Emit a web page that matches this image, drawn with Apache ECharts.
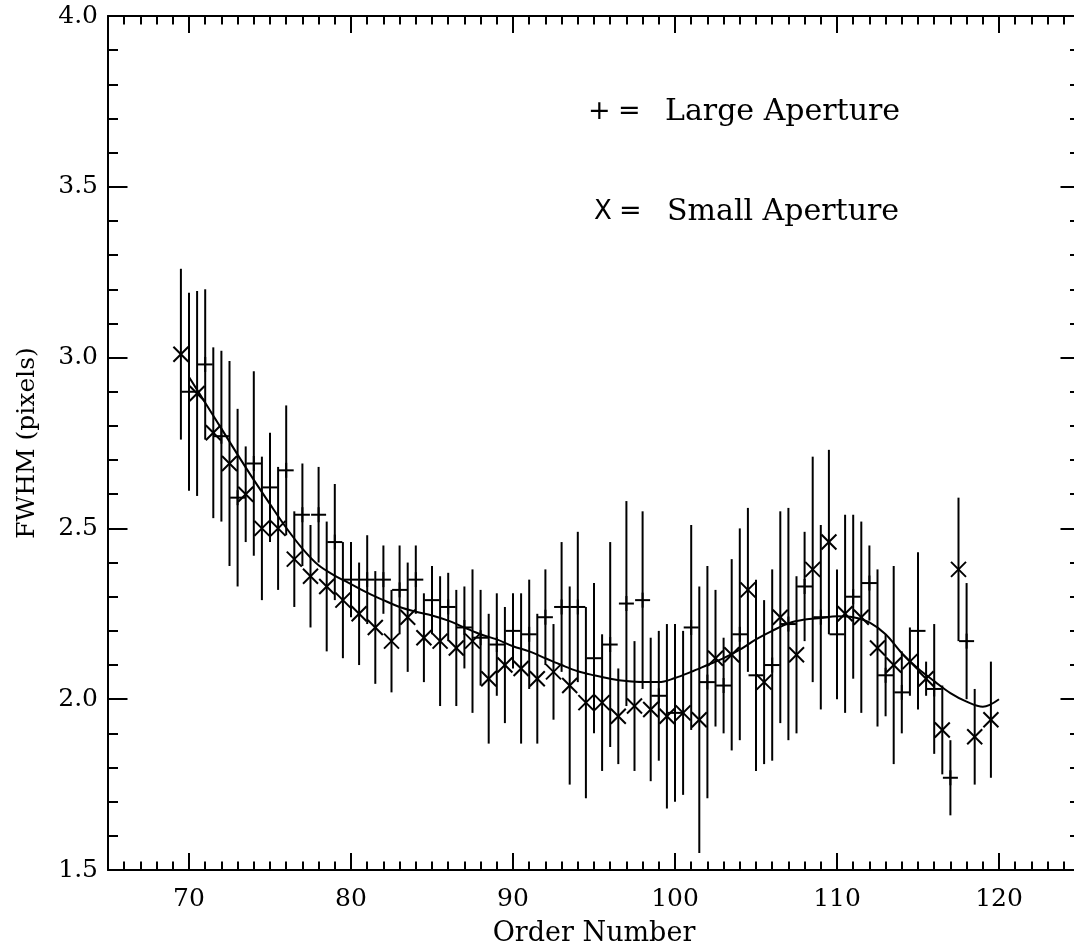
<!DOCTYPE html>
<html><head><meta charset="utf-8">
<script src="https://cdn.jsdelivr.net/npm/echarts@6/dist/echarts.min.js"></script>
<style>html,body{margin:0;padding:0;background:#fff}#c{width:1074px;height:948px}</style>
</head><body><div id="c"></div>
<script>
// ---- data ----
const smallOrders = [69.5,70.5,71.5,72.5,73.5,74.5,75.5,76.5,77.5,78.5,79.5,80.5,81.5,82.5,83.5,84.5,85.5,86.5,87.5,88.5,89.5,90.5,91.5,92.5,93.5,94.5,95.5,96.5,97.5,98.5,99.5,100.5,101.5,102.5,103.5,104.5,105.5,106.5,107.5,108.5,109.5,110.5,111.5,112.5,113.5,114.5,115.5,116.5,117.5,118.5,119.5];
const smallFwhm = [3.01,2.895,2.78,2.69,2.60,2.50,2.50,2.41,2.36,2.33,2.29,2.25,2.21,2.17,2.24,2.18,2.17,2.15,2.17,2.06,2.10,2.09,2.06,2.08,2.04,1.99,1.99,1.95,1.98,1.97,1.95,1.96,1.94,2.12,2.13,2.32,2.05,2.24,2.13,2.38,2.46,2.25,2.24,2.15,2.10,2.11,2.06,1.91,2.38,1.89,1.94];
const smallErr = [0.25,0.30,0.25,0.30,0.14,0.21,0.18,0.14,0.15,0.19,0.17,0.15,0.165,0.15,0.16,0.13,0.19,0.17,0.21,0.19,0.17,0.22,0.19,0.14,0.29,0.28,0.20,0.14,0.19,0.21,0.27,0.24,0.39,0.20,0.28,0.24,0.24,0.31,0.23,0.33,0.27,0.29,0.28,0.23,0.29,0.10,0.05,0.13,0.21,0.14,0.17];

const largeOrders = [70,71,72,73,74,75,76,77,78,79,80,81,82,83,84,85,86,87,88,89,90,91,92,93,94,95,96,97,98,99,100,101,102,103,104,105,106,107,108,109,110,111,112,113,114,115,116,117,118];
const largeFwhm = [2.90,2.98,2.77,2.59,2.69,2.62,2.67,2.54,2.54,2.46,2.35,2.35,2.35,2.32,2.35,2.29,2.27,2.21,2.18,2.16,2.20,2.19,2.24,2.27,2.27,2.12,2.16,2.28,2.29,2.01,1.96,2.21,2.05,2.04,2.19,2.07,2.10,2.22,2.33,2.24,2.19,2.30,2.34,2.07,2.02,2.20,2.03,1.77,2.17];
const largeErr = [0.29,0.22,0.25,0.26,0.27,0.16,0.19,0.15,0.14,0.17,0.11,0.13,0.10,0.13,0.10,0.10,0.10,0.12,0.14,0.15,0.11,0.16,0.14,0.19,0.22,0.22,0.30,0.30,0.26,0.19,0.26,0.30,0.34,0.14,0.31,0.28,0.28,0.34,0.16,0.27,0.19,0.24,0.11,0.12,0.12,0.23,0.19,0.11,0.17];

const fitOrders = [70,71,72,73,74,75,76,77,78,79,80,81,82,83,84,85,86,87,88,89,90,91,92,93,94,95,96,97,98,99,100,101,102,103,104,105,106,107,108,109,110,111,112,113,114,115,116,117,118,119,120];
const fitFwhm = [2.943,2.868,2.792,2.716,2.642,2.571,2.502,2.441,2.392,2.362,2.337,2.312,2.29,2.27,2.256,2.245,2.23,2.21,2.19,2.175,2.155,2.14,2.12,2.10,2.082,2.07,2.06,2.053,2.05,2.05,2.062,2.08,2.10,2.12,2.145,2.175,2.20,2.222,2.233,2.238,2.243,2.24,2.225,2.19,2.135,2.09,2.053,2.018,1.993,1.978,2.0];

const xMajorTicks = [70,80,90,100,110,120];
const xTitle = 'Order Number';
const yTitle = 'FWHM (pixels)';
const legendLarge = 'Large Aperture';
const legendSmall = 'Small Aperture';

// ---- rendering ----
const SERIF = '"DejaVu Serif", serif';
const SANS = '"DejaVu Sans", sans-serif';
const BLACK = '#000';
const chart = echarts.init(document.getElementById('c'), null, {renderer: 'canvas'});

function errSeries(name, orders, vals, errs, kind) {
  return {
    type: 'custom', name: name, xAxisIndex: 0, yAxisIndex: 0,
    data: orders.map((o, i) => [o, vals[i], errs[i]]),
    encode: {x: 0, y: 1},
    silent: true,
    renderItem: function (params, api) {
      const x = api.value(0), v = api.value(1), e = api.value(2);
      const p = api.coord([x, v]);
      const hi = api.coord([x, v + e]);
      const lo = api.coord([x, v - e]);
      const st = {stroke: BLACK, lineWidth: 2, fill: null};
      const s = 7.5;
      const ch = [{type: 'line', shape: {x1: hi[0], y1: hi[1], x2: lo[0], y2: lo[1]}, style: st}];
      if (kind === 'plus') {
        ch.push({type: 'line', shape: {x1: p[0] - s, y1: p[1], x2: p[0] + s, y2: p[1]}, style: st});
        ch.push({type: 'line', shape: {x1: p[0], y1: p[1] - s, x2: p[0], y2: p[1] + s}, style: st});
      } else {
        ch.push({type: 'line', shape: {x1: p[0] - s, y1: p[1] - s, x2: p[0] + s, y2: p[1] + s}, style: st});
        ch.push({type: 'line', shape: {x1: p[0] - s, y1: p[1] + s, x2: p[0] + s, y2: p[1] - s}, style: st});
      }
      return {type: 'group', children: ch};
    }
  };
}

const lineSt = {color: BLACK, width: 2};
const xBase = {type: 'value', min: 65, max: 125, splitLine: {show: false}, axisPointer: {show: false}};
const yBase = {type: 'value', min: 1.5, max: 4.0, interval: 0.5, splitLine: {show: false}};

const option = {
  animation: false,
  backgroundColor: '#fff',
  grid: {left: 108, top: 16, width: 972, height: 854, outerBoundsMode: 'none', containLabel: false},
  xAxis: [
    Object.assign({}, xBase, {
      position: 'bottom', interval: 1,
      axisLine: {show: true, onZero: false, lineStyle: lineSt},
      axisTick: {show: true, inside: true, length: 8.5, lineStyle: lineSt},
      axisLabel: {show: true, formatter: v => (v % 10 === 0 ? String(v) : ''), fontFamily: SERIF, fontSize: 25, color: BLACK, margin: 17},
      name: xTitle, nameLocation: 'middle', nameGap: 50,
      nameTextStyle: {fontFamily: SERIF, fontSize: 27, color: BLACK}
    }),
    Object.assign({}, xBase, {
      position: 'bottom',
      axisLine: {show: false, onZero: false},
      axisTick: {show: true, inside: true, length: 17, customValues: xMajorTicks, lineStyle: lineSt},
      axisLabel: {show: false}
    }),
    Object.assign({}, xBase, {
      position: 'top', interval: 1,
      axisLine: {show: true, onZero: false, lineStyle: lineSt},
      axisTick: {show: true, inside: true, length: 8.5, lineStyle: lineSt},
      axisLabel: {show: false}
    }),
    Object.assign({}, xBase, {
      position: 'top',
      axisLine: {show: false, onZero: false},
      axisTick: {show: true, inside: true, length: 17, customValues: xMajorTicks, lineStyle: lineSt},
      axisLabel: {show: false}
    })
  ],
  yAxis: [
    Object.assign({}, yBase, {
      position: 'left',
      axisLine: {show: true, onZero: false, lineStyle: lineSt},
      axisTick: {show: true, inside: true, length: 19.5, lineStyle: lineSt},
      minorTick: {show: true, splitNumber: 5, length: 10, lineStyle: lineSt},
      axisLabel: {formatter: v => v.toFixed(1), fontFamily: SERIF, fontSize: 25, color: BLACK, margin: 10},
      name: yTitle, nameLocation: 'middle', nameGap: 68, nameRotate: 90,
      nameTextStyle: {fontFamily: SERIF, fontSize: 25, color: BLACK}
    }),
    Object.assign({}, yBase, {
      position: 'right',
      axisLine: {show: true, onZero: false, lineStyle: lineSt},
      axisTick: {show: true, inside: true, length: 19.5, lineStyle: lineSt},
      minorTick: {show: true, splitNumber: 5, length: 10, lineStyle: lineSt},
      axisLabel: {show: false}
    })
  ],
  series: [
    {
      type: 'line', name: 'fit', xAxisIndex: 0, yAxisIndex: 0,
      data: fitOrders.map((o, i) => [o, fitFwhm[i]]),
      smooth: 0.35, symbol: 'none', showSymbol: false, silent: true,
      lineStyle: {color: BLACK, width: 2}
    },
    errSeries('Large Aperture', largeOrders, largeFwhm, largeErr, 'plus'),
    errSeries('Small Aperture', smallOrders, smallFwhm, smallErr, 'cross')
  ],
  graphic: [
    {
      type: 'text', x: 588, y: 112, silent: true,
      style: {
        text: '{p|+ }{e|= }{w|' + legendLarge + '}',
        verticalAlign: 'middle', fill: BLACK,
        rich: {
          p: {width: 30, fontFamily: SANS, fontSize: 27, fill: BLACK},
          e: {width: 47, fontFamily: SANS, fontSize: 27, fill: BLACK},
          w: {fontFamily: SERIF, fontSize: 30, fill: BLACK}
        }
      }
    },
    {
      type: 'text', x: 594, y: 212, silent: true,
      style: {
        text: '{p|X }{e|= }{w|' + legendSmall + '}',
        verticalAlign: 'middle', fill: BLACK,
        rich: {
          p: {width: 25, fontFamily: SANS, fontSize: 26, fill: BLACK},
          e: {width: 48, fontFamily: SANS, fontSize: 27, fill: BLACK},
          w: {fontFamily: SERIF, fontSize: 30, fill: BLACK}
        }
      }
    }
  ]
};
chart.setOption(option);
</script>
</body></html>
